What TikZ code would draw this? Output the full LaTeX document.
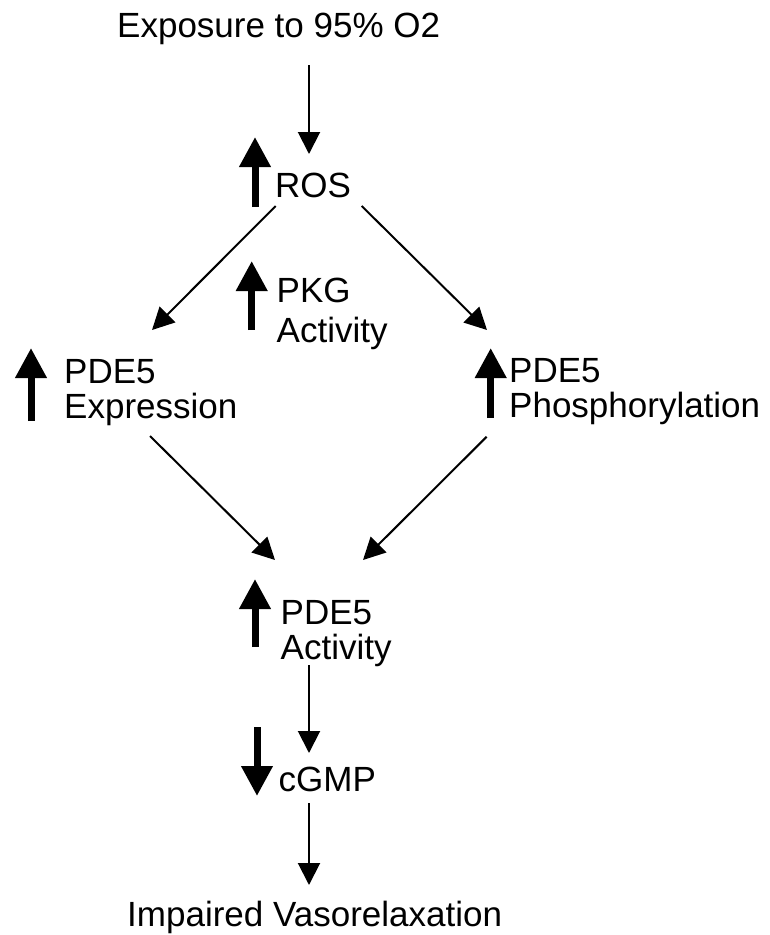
\documentclass[tikz,border=0pt]{standalone}
\usepackage{fontspec}
\setmainfont{Liberation Sans}
\usetikzlibrary{arrows.meta,calc}
\begin{document}
\begin{tikzpicture}[x=1pt,y=-1pt,
    lbl/.style={inner sep=0pt,align=left,anchor=base west,font=\fontsize{35}{35}\selectfont},
    arr/.style={line width=2pt,-{Triangle[length=22pt,width=22pt]}},
    bold/.style={line width=7pt,-{Triangle[length=30pt,width=30pt]}}]
    \useasboundingbox (0,0) rectangle (769,935);
    \node[lbl] (expo) at (117,37.5) {Exposure to 95\% O2};
    \node[lbl] (ros) at (275,197) {ROS};
    \node[lbl,font=\fontsize{35}{40}\selectfont] (pkg) at (276.5,342) {PKG\\Activity};
    \node[lbl] (expr) at (64,418) {PDE5\\Expression};
    \node[lbl] (phos) at (509,417) {PDE5\\Phosphorylation};
    \node[lbl] (act) at (280.5,659) {PDE5\\Activity};
    \node[lbl] (cgmp) at (278.5,791) {cGMP};
    \node[lbl] (imp) at (127,926.7) {Impaired Vasorelaxation};
    \draw[bold] ($(ros.base west)+(-20,10)$) -- ($(ros.base west)+(-20,-60)$);
    \draw[bold] ($(pkg.base west)+(-24.8,-12)$) -- ($(pkg.base west)+(-24.8,-81)$);
    \draw[bold] ($(expr.base west)+(-33,3)$) -- ($(expr.base west)+(-33,-70)$);
    \draw[bold] ($(phos.base west)+(-18.3,1)$) -- ($(phos.base west)+(-18.3,-69)$);
    \draw[bold] ($(act.base west)+(-25.5,-12)$) -- ($(act.base west)+(-25.5,-80)$);
    \draw[bold] ($(cgmp.base west)+(-21.5,-64)$) -- ($(cgmp.base west)+(-21.5,5)$);
    \draw[arr] ($(expo.base west)+(192,27.5)$) -- ($(ros.base west)+(34,-43)$);
    \draw[arr] ($(ros.base west)+(0.7,9)$) -- ($(expr.base west)+(88,-88)$);
    \draw[arr] ($(ros.base west)+(86.7,9)$) -- ($(phos.base west)+(-22,-87)$);
    \draw[arr] ($(expr.base west)+(86,18)$) -- ($(act.base west)+(-5.5,-99)$);
    \draw[arr] ($(phos.base west)+(-22.3,19.7)$) -- ($(act.base west)+(82.5,-99)$);
    \draw[arr] ($(act.base west)+(28.5,6)$) -- ($(cgmp.base west)+(30.5,-38)$);
    \draw[arr] ($(cgmp.base west)+(30.5,12)$) -- ($(imp.base west)+(182,-41.7)$);
\end{tikzpicture}
\end{document}
